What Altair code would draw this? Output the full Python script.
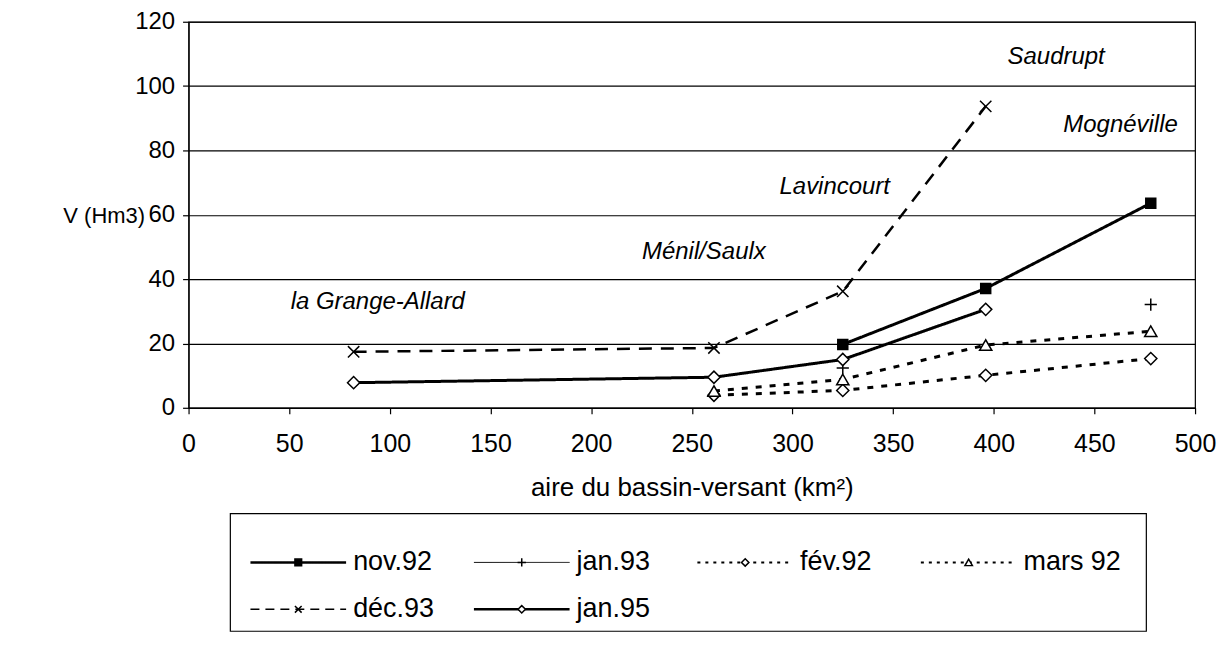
import altair as alt
import pandas as pd

# ---------------- data ----------------
area = [82, 261, 325, 396, 478]
nov92 = [None, None, 19.7, 37.1, 63.6]
jan93 = [None, None, 12.4, None, 32.1]
fev92 = [None, 3.9, 5.4, 10.1, 15.3]
mars92 = [None, 5.2, 8.8, 19.5, 23.8]
dec93 = [17.4, 18.6, 36.2, 93.7, None]
jan95 = [7.8, 9.5, 15.0, 30.6, None]

series_names = ["nov.92", "jan.93", "fév.92", "mars 92", "déc.93", "jan.95"]
series_values = [nov92, jan93, fev92, mars92, dec93, jan95]

site_names = ["Saudrupt", "Mognéville", "Lavincourt", "Ménil/Saulx", "la Grange-Allard"]
site_x = [431, 463, 321, 256, 94]
site_y = [109, 88, 68.5, 48.5, 33]

x_ticks = list(range(0, 501, 50))
y_ticks = list(range(0, 121, 20))

legend_col = [0, 1, 2, 3, 0, 1]
legend_row = [0, 0, 0, 0, 1, 1]

# ---------------- styles ----------------
FONT = "Liberation Sans"
PLUS = "M-1,0L1,0M0,-1L0,1"
XMARK = "M-1,-1L1,1M-1,1L1,-1"
styles = {
    "nov.92": dict(line=True, dash=[1, 0], width=3, shape="square", fill="black", size=100,
                   lwidth=2.5, ldash=[1, 0], lsize=45),
    "jan.93": dict(line=False, dash=[1, 0], width=1, shape=PLUS, fill=None, size=150,
                   lwidth=1, ldash=[1, 0], lsize=70),
    "fév.92": dict(line=True, dash=[6, 8], width=3, shape="diamond", fill="white", size=150,
                   lwidth=2, ldash=[3, 5], lsize=55),
    "mars 92": dict(line=True, dash=[6, 8], width=3, shape="triangle-up", fill="white", size=150,
                    lwidth=2, ldash=[3, 5], lsize=55),
    "déc.93": dict(line=True, dash=[13, 9], width=2.5, shape=XMARK, fill=None, size=130,
                   lwidth=1.5, ldash=[9, 6], lsize=45),
    "jan.95": dict(line=True, dash=[1, 0], width=3, shape="diamond", fill="white", size=150,
                   lwidth=2.5, ldash=[1, 0], lsize=55),
}

W, H = 1009, 387

xscale = alt.Scale(domain=[0, 500], nice=False, zero=False)
yscale = alt.Scale(domain=[0, 120], nice=False)

x_axis = alt.Axis(values=x_ticks, grid=False, tickSize=6, labelPadding=18, titlePadding=18,
                  title="aire du bassin-versant (km²)", titleFontSize=26, labelFontSize=25,
                  format="d", labelFlush=False, labelOverlap=False)
y_axis = alt.Axis(values=y_ticks, grid=True, tickSize=6, labelPadding=8, title="V (Hm3)",
                  titleAngle=0, titleAlign="left", titleBaseline="middle", titleX=-126,
                  titleY=194, titleFontSize=22, labelFontSize=24, labelOverlap=False)


def point_mark(st, size):
    if st["fill"] is None:
        return alt.Chart().mark_point(shape=st["shape"], filled=False, stroke="black",
                                      strokeWidth=1.5, size=size, opacity=1)
    return alt.Chart().mark_point(shape=st["shape"], filled=True, fill=st["fill"], stroke="black",
                                  strokeWidth=1.5, size=size, opacity=1)


line_layers = []
point_layers = []
for name, vals in zip(series_names, series_values):
    st = styles[name]
    df = pd.DataFrame({"area": area, "v": vals, "serie": name}).dropna()
    enc = dict(x=alt.X("area:Q", scale=xscale, axis=x_axis),
               y=alt.Y("v:Q", scale=yscale, axis=y_axis))
    if st["line"]:
        line_layers.append(
            alt.Chart(df).mark_line(color="black", strokeWidth=st["width"], strokeDash=st["dash"])
            .encode(**enc)
        )
    pm = point_mark(st, st["size"])
    point_layers.append(pm.properties(data=df).encode(**enc))

sites = pd.DataFrame({"name": site_names, "x": site_x, "y": site_y})
labels = alt.Chart(sites).mark_text(font=FONT, fontStyle="italic", fontSize=24, color="black",
                                    align="center", baseline="middle").encode(
    x=alt.X("x:Q", scale=xscale, axis=x_axis),
    y=alt.Y("y:Q", scale=yscale, axis=y_axis),
    text="name:N",
)

main = alt.layer(*line_layers, *point_layers, labels).properties(
    width=W, height=H, view=alt.ViewBackground(stroke="black", strokeWidth=1.2)
)

# ---------------- legend (drawn as its own small chart) ----------------
LX = alt.Scale(domain=[-0.491, 4.013], nice=False, zero=False)
LY = alt.Scale(domain=[-1.043, 1.468], nice=False, zero=False, reverse=True)
box = pd.DataFrame({"x": [-0.304], "x2": [3.795], "y": [-1.043], "y2": [1.468]})
box_layer = alt.Chart(box).mark_rect(fill="white", stroke="black", strokeWidth=1.2).encode(
    x=alt.X("x:Q", scale=LX, axis=None), x2="x2:Q",
    y=alt.Y("y:Q", scale=LY, axis=None), y2="y2:Q",
)
leg_df = pd.DataFrame({"serie": series_names, "col": legend_col, "row": legend_row})
leg_layers = [box_layer]
for name in series_names:
    st = styles[name]
    d = leg_df[leg_df["serie"] == name]
    base = alt.Chart(d).transform_calculate(
        x1="datum.col - 0.214", x2="datum.col + 0.214", xt="datum.col + 0.2455"
    )
    leg_layers.append(
        base.mark_rule(color="black", strokeWidth=st["lwidth"], strokeDash=st["ldash"]).encode(
            x=alt.X("x1:Q", scale=LX, axis=None), x2="x2:Q",
            y=alt.Y("row:Q", scale=LY, axis=None))
    )
    pm = point_mark(st, st["lsize"])
    leg_layers.append(
        pm.properties(data=d).encode(x=alt.X("col:Q", scale=LX, axis=None),
                                     y=alt.Y("row:Q", scale=LY, axis=None))
    )
    leg_layers.append(
        base.mark_text(font=FONT, fontSize=27, color="black", align="left", baseline="middle").encode(
            x=alt.X("xt:Q", scale=LX, axis=None),
            y=alt.Y("row:Q", scale=LY, axis=None),
            text="serie:N")
    )

legend = alt.layer(*leg_layers).properties(
    width=W, height=118, view=alt.ViewBackground(stroke="transparent")
)

chart = alt.vconcat(main, legend, spacing=10).properties(
    padding={"left": 54, "top": 0, "right": 0, "bottom": 5},
    background="white",
).configure_axis(
    domainColor="black", tickColor="black", gridColor="black", gridWidth=1.2,
    domainWidth=1.2, tickWidth=1.2, labelColor="black", titleColor="black",
    labelFont=FONT, titleFont=FONT, titleFontWeight="normal",
)

chart.save("out.html", embed_options={"renderer": "svg", "actions": False})
